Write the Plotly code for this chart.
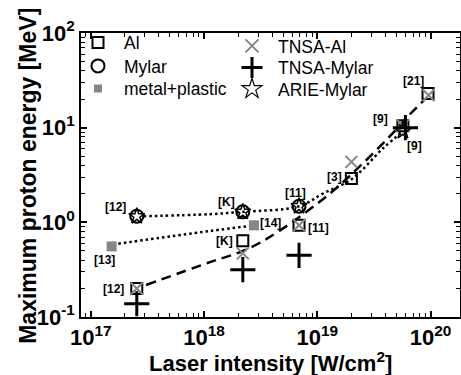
import numpy as np
import plotly.graph_objects as go

# ---------------- data ----------------
al_x = [2.55e17, 2.2e18, 6.9e18, 2.0e19, 5.7e19, 9.5e19]
al_y = [0.20, 0.64, 0.93, 2.9, 10.5, 23.0]

mylar_x = [2.55e17, 2.2e18, 6.9e18]
mylar_y = [1.16, 1.29, 1.48]

mp_x = [1.53e17, 2.76e18]
mp_y = [0.557, 0.93]

tnsa_al_x = [2.55e17, 2.2e18, 6.9e18, 2.0e19, 5.7e19, 9.6e19]
tnsa_al_y = [0.20, 0.47, 0.93, 4.35, 10.5, 22.0]

tnsa_my_x = [2.55e17, 2.2e18, 6.9e18, 6.0e19]
tnsa_my_y = [0.138, 0.316, 0.448, 10.0]

arie_x = [2.55e17, 2.2e18, 6.9e18, 5.7e19]
arie_y = [1.16, 1.29, 1.48, 9.2]

# fit curves
fit_al_x = [3.08e17, 1.13e18, 2.38e18, 4.69e18, 1.29e19, 2.38e19, 4.38e19, 6.32e19, 8.75e19]
fit_al_y = [0.218, 0.380, 0.517, 0.822, 2.01, 3.92, 8.13, 13.2, 19.5]

fit_my_x = [2.92e17, 1.13e18, 2.2e18, 6.93e18, 1.12e19, 2.01e19, 3.8e19, 5.72e19]
fit_my_y = [1.16, 1.22, 1.29, 1.48, 2.01, 2.86, 6.03, 9.18]

fit_mp_x = [1.75e17, 1.13e18, 2.6e18]
fit_mp_y = [0.595, 0.81, 0.92]

# reference labels: text, anchor x, anchor y
ref_text = ["[12]", "[13]", "[12]", "[K]", "[K]", "[14]", "[11]", "[11]", "[3]", "[9]", "[9]", "[21]"]
ref_x = [2.55e17, 1.53e17, 2.55e17, 2.2e18, 2.2e18, 2.76e18, 6.9e18, 6.9e18, 2.0e19, 5.7e19, 5.7e19, 9.5e19]
ref_y = [1.16, 0.557, 0.20, 1.29, 0.64, 0.93, 1.48, 0.93, 2.9, 10.5, 9.2, 23.0]
ref_dx = [-21, -7, -23, -16, -18, 17, -4, 19, -17, -22, 12, -15]
ref_dy = [9, -14, 0, 10, 0, 2, 13, -3, 2, 7, -15, 12]

x_tickvals = [1e17, 1e18, 1e19, 1e20]
x_ticktext = ["10<sup>17</sup>", "10<sup>18</sup>", "10<sup>19</sup>", "10<sup>20</sup>"]
y_tickvals = [0.1, 1, 10, 100]
y_ticktext = ["10<sup>-1</sup>", "10<sup>0</sup>", "10<sup>1</sup>", "10<sup>2</sup>"]

x_title = "Laser intensity [W/cm<sup>2</sup>]"
y_title = "Maximum proton energy [MeV]"

# ---------------- figure ----------------
FONT = "Liberation Sans, Arial, sans-serif"
GREY = "#858585"
fig = go.Figure()

fig.add_trace(go.Scatter(x=fit_al_x, y=fit_al_y, mode="lines", showlegend=False,
                         line=dict(color="black", width=2.5, dash="10px,6px", shape="spline")))
fig.add_trace(go.Scatter(x=fit_my_x, y=fit_my_y, mode="lines", showlegend=False,
                         line=dict(color="black", width=2.5, dash="2.5px,3px", shape="spline")))
fig.add_trace(go.Scatter(x=fit_mp_x, y=fit_mp_y, mode="lines", showlegend=False,
                         line=dict(color="black", width=2.5, dash="2.5px,3px", shape="spline")))

sty = {
    "Al": dict(symbol="square-open", size=11, color="black", line=dict(color="black", width=2)),
    "Mylar": dict(symbol="circle-open", size=13, color="black", line=dict(color="black", width=2)),
    "metal+plastic": dict(symbol="square", size=10, color=GREY, line=dict(width=0)),
    "TNSA-Al": dict(symbol="x-thin-open", size=12, color=GREY, line=dict(color=GREY, width=2)),
    "TNSA-Mylar": dict(symbol="cross-thin-open", size=18, color="black", line=dict(color="black", width=3)),
    "ARIE-Mylar": dict(symbol="star-open", size=12, color="black", line=dict(color="black", width=1.5)),
}
series = [("Al", al_x, al_y), ("Mylar", mylar_x, mylar_y), ("metal+plastic", mp_x, mp_y),
          ("TNSA-Al", tnsa_al_x, tnsa_al_y), ("TNSA-Mylar", tnsa_my_x, tnsa_my_y),
          ("ARIE-Mylar", arie_x, arie_y)]
for name, xs, ys in series:
    fig.add_trace(go.Scatter(x=xs, y=ys, mode="markers", name=name, showlegend=False,
                             marker=sty[name]))

# legend entries (one small legend per entry, laid out in two columns)
leg_sty = {
    "Al": dict(symbol="square-open", size=11, color="black", line=dict(color="black", width=2)),
    "Mylar": dict(symbol="circle-open", size=13, color="black", line=dict(color="black", width=2)),
    "metal+plastic": dict(symbol="square", size=8, color=GREY, line=dict(width=0)),
    "TNSA-Al": dict(symbol="x-thin-open", size=13, color=GREY, line=dict(color=GREY, width=2)),
    "TNSA-Mylar": dict(symbol="cross-thin-open", size=15, color="black", line=dict(color="black", width=3)),
    "ARIE-Mylar": dict(symbol="star-open", size=15, color="black", line=dict(color="black", width=1.2)),
}
leg_ids = ["legend", "legend2", "legend3", "legend4", "legend5", "legend6"]
for lid, (name, xs, ys) in zip(leg_ids, series):
    fig.add_trace(go.Scatter(x=[None], y=[None], mode="markers", name=name,
                             marker=leg_sty[name], legend=lid))

for t, x, y, dx, dy in zip(ref_text, ref_x, ref_y, ref_dx, ref_dy):
    fig.add_annotation(x=np.log10(x), y=np.log10(y), text=t, showarrow=False,
                       xshift=dx, yshift=dy, xanchor="center", yanchor="middle",
                       font=dict(family=FONT, size=12, color="black", weight="bold"))

# axis titles
fig.add_annotation(xref="paper", yref="paper", x=0.5, y=-0.158, text=x_title,
                   showarrow=False, xanchor="center", yanchor="middle",
                   font=dict(family=FONT, size=22, color="black", weight="bold"))
fig.add_annotation(xref="paper", yref="paper", x=-0.14, y=0.497, text=y_title,
                   showarrow=False, textangle=-90, xanchor="center", yanchor="middle",
                   font=dict(family=FONT, size=23, color="black", weight="bold"))

minor_x = [m * 10.0 ** e for e in range(16, 21) for m in range(2, 10)]
minor_y = [m * 10.0 ** e for e in range(-2, 3) for m in range(2, 10)]

axis_common = dict(showline=True, linecolor="black", linewidth=1.5, mirror="ticks",
                   ticks="inside", ticklen=6, tickwidth=1.5, tickcolor="black",
                   showgrid=False, zeroline=False,
                   tickfont=dict(family=FONT, size=22, color="black", weight="bold"))

fig.update_xaxes(type="log", range=[16.914, 20.26], tickmode="array",
                 tickvals=x_tickvals, ticktext=x_ticktext,
                 minor=dict(tickmode="array", tickvals=minor_x, ticks="inside", ticklen=4,
                            tickwidth=1, tickcolor="black", showgrid=False),
                 **axis_common)
fig.update_yaxes(type="log", range=[-1, 2], tickmode="array",
                 tickvals=y_tickvals, ticktext=y_ticktext,
                 minor=dict(tickmode="array", tickvals=minor_y, ticks="inside", ticklen=4,
                            tickwidth=1, tickcolor="black", showgrid=False),
                 **axis_common)

leg_common = dict(bgcolor="rgba(0,0,0,0)", borderwidth=0, itemwidth=42,
                  tracegroupgap=0, xref="container", yref="container",
                  xanchor="left", yanchor="top",
                  font=dict(family=FONT, size=17.5, color="black"))
# legend box top-left corners (pixels) for each entry
leg_left = [72, 72, 72, 226, 226, 226]
leg_top = [24.5, 48, 70.5, 28, 49.5, 71]
fig.update_layout(
    width=461, height=375,
    margin=dict(l=81, r=1, t=33, b=58, autoexpand=False),
    paper_bgcolor="white", plot_bgcolor="white",
)
fig.update_layout({lid: dict(x=lx / 461, y=1 - ly / 375, **leg_common)
                   for lid, lx, ly in zip(leg_ids, leg_left, leg_top)})

fig.write_html("out.html")
